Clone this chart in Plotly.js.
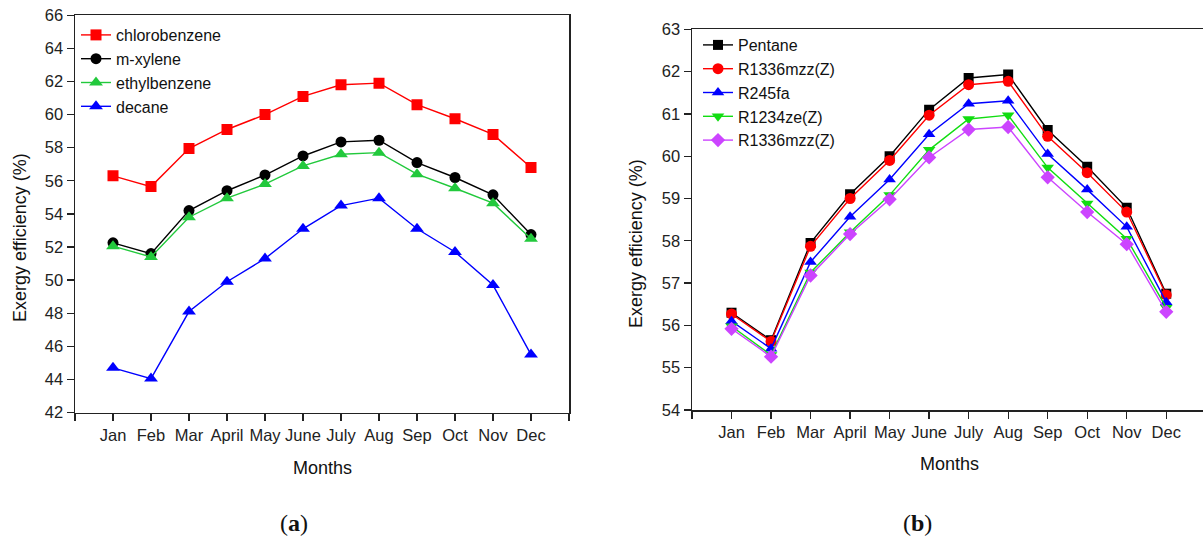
<!DOCTYPE html>
<html>
<head>
<meta charset="utf-8">
<script src="https://cdn.plot.ly/plotly-3.0.1.min.js"></script>
<style>html,body{margin:0;padding:0;background:#fff;}#chart{width:1203px;height:542px;}</style>
</head>
<body>
<div id="chart"></div>
<script>
const months = ['Jan','Feb','Mar','April','May','June','July','Aug','Sep','Oct','Nov','Dec'];
const monthIdx = [0,1,2,3,4,5,6,7,8,9,10,11];

// Panel (a)
const chlorobenzene = [56.3, 55.65, 57.95, 59.1, 60.0, 61.1, 61.8, 61.9, 60.6, 59.75, 58.8, 56.8];
const mXylene       = [52.25, 51.6, 54.2, 55.4, 56.35, 57.5, 58.35, 58.45, 57.1, 56.2, 55.15, 52.75];
const ethylbenzene  = [52.05, 51.4, 53.8, 54.95, 55.8, 56.9, 57.6, 57.7, 56.4, 55.55, 54.65, 52.5];
const decane        = [44.7, 44.05, 48.1, 49.9, 51.3, 53.1, 54.5, 54.95, 53.1, 51.7, 49.7, 45.5];

// Panel (b)
const pentane      = [56.3, 55.65, 57.95, 59.1, 60.0, 61.1, 61.85, 61.93, 60.62, 59.75, 58.78, 56.75];
const r1336mzzRed  = [56.27, 55.62, 57.87, 59.0, 59.9, 60.97, 61.69, 61.77, 60.47, 59.61, 58.68, 56.72];
const r245fa       = [56.1, 55.45, 57.5, 58.57, 59.45, 60.52, 61.24, 61.31, 60.05, 59.21, 58.33, 56.55];
const r1234ze      = [55.98, 55.3, 57.25, 58.2, 59.08, 60.15, 60.88, 60.97, 59.73, 58.88, 58.05, 56.42];
const r1336mzzMag  = [55.92, 55.26, 57.18, 58.16, 58.98, 59.97, 60.63, 60.69, 59.5, 58.68, 57.92, 56.32];

const xTickValsA = [-1,0,1,2,3,4,5,6,7,8,9,10,11,12];
const xTickTextA = [''].concat(months).concat(['']);
const yTicksA = [42,44,46,48,50,52,54,56,58,60,62,64,66];
const yTicksB = [54,55,56,57,58,59,60,61,62,63];

function tr(y, name, color, symbol, size, xa, ya, leg) {
  return {x: monthIdx, y: y, name: name, type: 'scatter', mode: 'lines+markers',
    line: {color: color, width: 1.4}, marker: {color: color, symbol: symbol, size: size},
    xaxis: xa, yaxis: ya, legend: leg};
}

const data = [
  tr(chlorobenzene, 'chlorobenzene', '#ff0000', 'square', 11, 'x', 'y', 'legend'),
  tr(mXylene, 'm-xylene', '#000000', 'circle', 11, 'x', 'y', 'legend'),
  tr(ethylbenzene, 'ethylbenzene', '#22c93c', 'triangle-up', 12, 'x', 'y', 'legend'),
  tr(decane, 'decane', '#0000ff', 'triangle-up', 12, 'x', 'y', 'legend'),
  tr(pentane, 'Pentane', '#000000', 'square', 10, 'x2', 'y2', 'legend2'),
  tr(r1336mzzRed, 'R1336mzz(Z)', '#ff0000', 'circle', 11, 'x2', 'y2', 'legend2'),
  tr(r245fa, 'R245fa', '#0000ff', 'triangle-up', 11, 'x2', 'y2', 'legend2'),
  tr(r1234ze, 'R1234ze(Z)', '#11dd11', 'triangle-down', 11, 'x2', 'y2', 'legend2'),
  tr(r1336mzzMag, 'R1336mzz(Z)', '#cc44ff', 'diamond', 11, 'x2', 'y2', 'legend2')
];

const W = 1203, H = 542;
const FF = 'Liberation Sans, Arial, sans-serif';
const tickFont = {family: FF, size: 16.5, color: '#222'};
const axCommon = {showline: true, linecolor: '#222', linewidth: 1.5, ticks: 'outside',
  ticklen: 7, tickwidth: 1.3, tickcolor: '#222', showgrid: false, zeroline: false,
  tickfont: tickFont, fixedrange: true};

function ann(text, x, y, size, angle, family) {
  return {text: text, xref: 'paper', yref: 'paper', x: x/W, y: 1-y/H, xanchor: 'center',
    yanchor: 'middle', showarrow: false, textangle: angle || 0,
    font: {family: family || FF, size: size, color: '#111'}};
}

const layout = {
  width: W, height: H,
  margin: {l: 0, r: 0, t: 0, b: 0},
  paper_bgcolor: '#fff', plot_bgcolor: '#fff',
  showlegend: true,
  xaxis: Object.assign({}, axCommon, {domain: [75/W, 569/W], range: [-1, 12],
    tickmode: 'array', tickvals: xTickValsA, ticktext: xTickTextA, mirror: true, anchor: 'y'}),
  yaxis: Object.assign({}, axCommon, {domain: [1-412.5/H, 1-15.3/H], range: [42, 66],
    tickmode: 'array', tickvals: yTicksA, mirror: true, anchor: 'x'}),
  xaxis2: Object.assign({}, axCommon, {domain: [692/W, 1], range: [-1, 11.93],
    tickmode: 'array', tickvals: xTickValsA, ticktext: xTickTextA, mirror: true, anchor: 'y2'}),
  yaxis2: Object.assign({}, axCommon, {domain: [1-410/H, 1-29.3/H], range: [54, 63],
    tickmode: 'array', tickvals: yTicksB, mirror: false, anchor: 'x2'}),
  legend: {x: 76/W, y: 1-18/H, xanchor: 'left', yanchor: 'top', bgcolor: 'rgba(0,0,0,0)',
    font: {family: FF, size: 16, color: '#111'}, itemwidth: 30, tracegroupgap: 0},
  legend2: {x: 698/W, y: 1-28/H, xanchor: 'left', yanchor: 'top', bgcolor: 'rgba(0,0,0,0)',
    font: {family: FF, size: 16, color: '#111'}, itemwidth: 30, tracegroupgap: 0},
  annotations: [
    ann('Months', 322, 468, 18),
    ann('Months', 949, 464, 18),
    ann('Exergy efficiency (%)', 20, 238, 18, -90),
    ann('Exergy efficiency (%)', 636, 244, 18, -90),
    ann('(<b>a</b>)', 294, 523, 24, 0, 'Liberation Serif, Times New Roman, serif'),
    ann('(<b>b</b>)', 917, 523, 24, 0, 'Liberation Serif, Times New Roman, serif')
  ]
};

Plotly.newPlot('chart', data, layout, {displayModeBar: false, staticPlot: true});
</script>
</body>
</html>
